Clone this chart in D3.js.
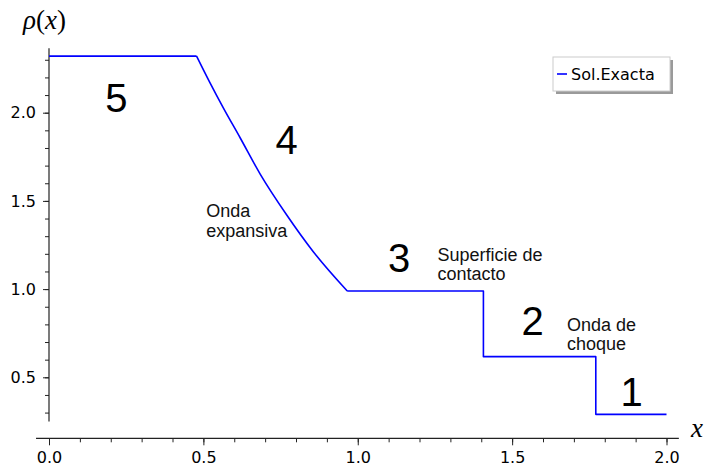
<!DOCTYPE html>
<html>
<head>
<meta charset="utf-8">
<script src="https://cdn.jsdelivr.net/npm/d3@7/dist/d3.min.js"></script>
<style>
  html, body { margin: 0; padding: 0; background: #fff; }
  svg { display: block; }
</style>
</head>
<body>
<svg id="chart" width="704" height="469"></svg>
<script>
// Exact solution of the shock tube: density profile rho(x)
const xPos = [0, 0.478, 0.522, 0.565, 0.619, 0.684, 0.770, 0.856, 0.966, 1.407, 1.407, 1.771, 1.771, 2.0];
const rhoVals = [2.321, 2.321, 2.168, 2.026, 1.858, 1.652, 1.420, 1.212, 0.989, 0.989, 0.617, 0.617, 0.290, 0.290];
// index range of the expansion fan (smooth part of the profile)
const fanStart = 1, fanEnd = 8;

// Axis ticks
const xMajorTicks = [0, 0.5, 1.0, 1.5, 2.0];
const yMajorTicks = [0.5, 1.0, 1.5, 2.0];

// Region numbers and wave names (data coordinates)
const regionNames = ["5", "4", "3", "2", "1"];
const regionX = [0.218, 0.770, 1.134, 1.566, 1.887];
const regionY = [2.083, 1.845, 1.181, 0.822, 0.417];

const waveNames = [["Onda", "expansiva"], ["Superficie de", "contacto"], ["Onda de", "choque"]];
const waveX = [0.509, 1.258, 1.678];
const waveY = [1.407, 1.161, 0.763];

const legendLabel = "Sol.Exacta";

const svg = d3.select("#chart");

const x = d3.scaleLinear().domain([0, 2]).range([49, 666.5]);
const y = d3.scaleLinear().domain([0.5, 2.0]).range([377.3, 112.7]);

const axisColor = "#222";
const tickFont = "'DejaVu Sans', sans-serif";

// ---- x axis (placed below the data area) ----
const xAxisY = 438.3;
const xMinor = d3.range(0, 2.0001, 0.1).map(v => +v.toFixed(2));
const gx = svg.append("g").attr("transform", `translate(0,${xAxisY})`);
gx.call(d3.axisBottom(x).tickValues(xMinor).tickSize(4).tickFormat(""));
gx.select(".domain").remove();
const gxMaj = svg.append("g").attr("transform", `translate(0,${xAxisY})`);
gxMaj.call(d3.axisBottom(x).tickValues(xMajorTicks).tickSize(7).tickPadding(6).tickFormat(d3.format(".1f")));
gxMaj.select(".domain").remove();
gxMaj.selectAll("text").attr("font-size", 16).attr("font-family", tickFont).attr("fill", "#000");
svg.append("line")
  .attr("x1", x(-0.042)).attr("x2", x(2.04))
  .attr("y1", xAxisY).attr("y2", xAxisY)
  .attr("stroke", axisColor).attr("stroke-width", 1.2);

// ---- y axis ----
const yAxisX = 49;
const yMinor = d3.range(0.3, 2.3001, 0.1).map(v => +v.toFixed(2));
const gy = svg.append("g").attr("transform", `translate(${yAxisX},0)`);
gy.call(d3.axisLeft(y).tickValues(yMinor).tickSize(4).tickFormat(""));
gy.select(".domain").remove();
const gyMaj = svg.append("g").attr("transform", `translate(${yAxisX},0)`);
gyMaj.call(d3.axisLeft(y).tickValues(yMajorTicks).tickSize(6).tickPadding(7).tickFormat(d3.format(".1f")));
gyMaj.select(".domain").remove();
gyMaj.selectAll("text").attr("font-size", 16).attr("font-family", tickFont).attr("fill", "#000");
svg.append("line")
  .attr("x1", yAxisX).attr("x2", yAxisX)
  .attr("y1", y(2.366)).attr("y2", y(0.25))
  .attr("stroke", axisColor).attr("stroke-width", 1.2);
svg.selectAll("g .tick line").attr("stroke", axisColor).attr("stroke-width", 1);

// ---- axis labels ----
const rhoLabel = svg.append("text")
  .attr("x", 23).attr("y", 29)
  .attr("font-family", "'Liberation Serif', serif")
  .attr("font-size", 27).attr("fill", "#000");
rhoLabel.append("tspan").attr("font-style", "italic").text("ρ");
rhoLabel.append("tspan").text("(");
rhoLabel.append("tspan").attr("font-style", "italic").text("x");
rhoLabel.append("tspan").text(")");

svg.append("text")
  .attr("x", 691).attr("y", 437)
  .attr("font-family", "'Liberation Serif', serif")
  .attr("font-style", "italic")
  .attr("font-size", 27).attr("fill", "#000")
  .text("x");

// ---- density curve: flat states and jumps linear, expansion fan smooth ----
const pts = xPos.map((v, i) => [v, rhoVals[i]]);
const lineLin = d3.line().x(d => x(d[0])).y(d => y(d[1]));
const lineFan = d3.line().x(d => x(d[0])).y(d => y(d[1])).curve(d3.curveMonotoneX);
const pieces = [
  lineLin(pts.slice(0, fanStart + 1)),
  lineFan(pts.slice(fanStart, fanEnd + 1)),
  lineLin(pts.slice(fanEnd))
];
svg.append("path")
  .attr("fill", "none")
  .attr("stroke", "#0000ff")
  .attr("stroke-width", 1.6)
  .attr("stroke-linejoin", "round")
  .attr("d", pieces.join(""));

// ---- region numbers ----
svg.selectAll("text.region")
  .data(regionNames)
  .join("text")
  .attr("class", "region")
  .attr("x", (d, i) => x(regionX[i]))
  .attr("y", (d, i) => y(regionY[i]))
  .attr("dy", "0.36em")
  .attr("text-anchor", "middle")
  .attr("font-family", "'Liberation Sans', Arial, sans-serif")
  .attr("font-size", 40)
  .attr("fill", "#000")
  .text(d => d);

// ---- wave names ----
waveNames.forEach((lines, i) => {
  const t = svg.append("text")
    .attr("x", x(waveX[i])).attr("y", y(waveY[i]))
    .attr("font-family", "'Liberation Sans', Arial, sans-serif")
    .attr("font-size", 18)
    .attr("fill", "#111");
  lines.forEach((ln, j) => {
    t.append("tspan").attr("x", x(waveX[i])).attr("dy", j === 0 ? 0 : 19.3).text(ln);
  });
});

// ---- legend ----
const lg = svg.append("g").attr("transform", "translate(553,57)");
lg.append("rect").attr("x", 3).attr("y", 3).attr("width", 117).attr("height", 34)
  .attr("fill", "#9a9a9a");
lg.append("rect").attr("x", 0).attr("y", 0).attr("width", 117).attr("height", 34)
  .attr("fill", "#fff").attr("stroke", "#cccccc").attr("stroke-width", 1);
lg.append("line").attr("x1", 4).attr("x2", 14).attr("y1", 17).attr("y2", 17)
  .attr("stroke", "#0000ff").attr("stroke-width", 1.6);
lg.append("text").attr("x", 18).attr("y", 22.5)
  .attr("font-family", tickFont).attr("font-size", 16).attr("fill", "#000")
  .text(legendLabel);
</script>
</body>
</html>
